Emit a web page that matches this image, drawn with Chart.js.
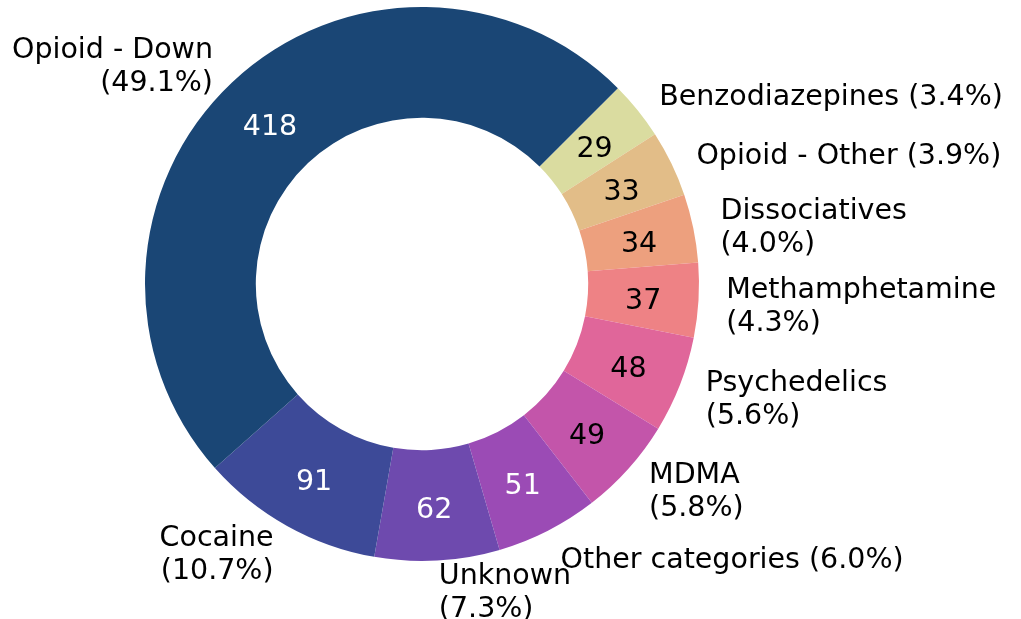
<!DOCTYPE html>
<html>
<head>
<meta charset="utf-8">
<script src="https://cdn.jsdelivr.net/npm/chart.js@4"></script>
<style>
html,body{margin:0;padding:0;background:#fff;}
#wrap{width:1021px;height:619px;}
</style>
</head>
<body>
<div id="wrap"><canvas id="c" width="1021" height="619"></canvas></div>
<script>
// Data (matplotlib order, counter-clockwise from the 45° start)
const categories = ["Opioid - Down","Cocaine","Unknown","Other categories","MDMA","Psychedelics","Methamphetamine","Dissociatives","Opioid - Other","Benzodiazepines"];
const counts = [418, 91, 62, 51, 49, 48, 37, 34, 33, 29];
const wrapLabel = [true, true, true, false, true, true, true, true, false, false];
const colors = ["#1a4675","#3d4a98","#6e4aae","#9b4bb5","#c355aa","#e0669a","#ee8285","#eda07e","#e2bd88","#dadca0"];
const valueTextColors = ["#ffffff","#ffffff","#ffffff","#ffffff","#000000","#000000","#000000","#000000","#000000","#000000"];

const total = counts.reduce((a,b)=>a+b,0);
const labelText = categories.map((c,i)=>{
  const pct = (counts[i]/total*100).toFixed(1) + "%";
  return wrapLabel[i] ? [c, "(" + pct + ")"] : [c + " (" + pct + ")"];
});

// Chart.js draws clockwise, so reverse to mimic counter-clockwise order
const rev = a => a.slice().reverse();

const FONT = '28.5px "DejaVu Sans"';
const LINE_H = 33;

const labelPlugin = {
  id: 'pieLabels',
  afterDraw(chart) {
    const ctx = chart.ctx;
    const meta = chart.getDatasetMeta(0);
    const n = categories.length;
    ctx.save();
    ctx.font = FONT;
    meta.data.forEach((arc, j) => {
      const i = n - 1 - j; // original index
      const p = arc.getProps(['x','y','startAngle','endAngle','outerRadius','innerRadius'], true);
      const mid = (p.startAngle + p.endAngle) / 2;
      const c = Math.cos(mid), s = Math.sin(mid);
      // value text at middle of ring
      const rv = 0.8 * p.outerRadius;
      ctx.fillStyle = valueTextColors[i];
      ctx.textAlign = 'center';
      ctx.textBaseline = 'middle';
      ctx.fillText(String(counts[i]), p.x + rv * c, p.y + rv * s + 5);
      // outside label
      const rl = 1.1 * p.outerRadius;
      const lx = p.x + rl * c, ly = p.y + rl * s;
      const lines = labelText[i];
      ctx.fillStyle = '#000000';
      ctx.textAlign = c >= 0 ? 'left' : 'right';
      lines.forEach((ln, k) => {
        const yy = ly + (k - (lines.length - 1) / 2) * LINE_H + 5;
        ctx.fillText(ln, lx, yy);
      });
    });
    ctx.restore();
  }
};

new Chart(document.getElementById('c'), {
  type: 'doughnut',
  data: {
    labels: rev(categories),
    datasets: [{
      data: rev(counts),
      backgroundColor: rev(colors),
      borderWidth: 0,
      hoverOffset: 0
    }]
  },
  options: {
    responsive: false,
    animation: false,
    devicePixelRatio: 1,
    rotation: 45,
    cutout: '60%',
    layout: { padding: { left: 145, right: 322, top: 6, bottom: 57 } },
    plugins: {
      legend: { display: false },
      tooltip: { enabled: false }
    }
  },
  plugins: [labelPlugin]
});
</script>
</body>
</html>
